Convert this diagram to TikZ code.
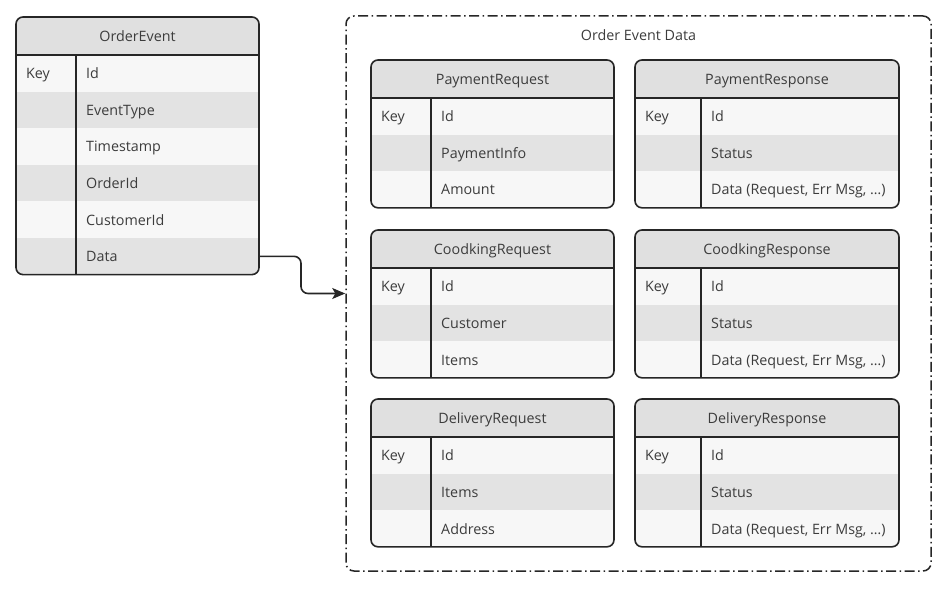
\documentclass[tikz,border=0pt]{standalone}
\usepackage{fontspec}
\setmainfont{Open Sans}
\usetikzlibrary{positioning,arrows.meta,calc}

\definecolor{hdrgray}{HTML}{E0E0E0}
\definecolor{rowlight}{HTML}{F7F7F7}
\definecolor{rowdark}{HTML}{E3E3E3}
\definecolor{inkgray}{HTML}{262626}
\definecolor{txtgray}{HTML}{3C3C3C}

\newcommand{\hdrh}{38}
\newcommand{\rowh}{36.6}

% entity table: name, top-left, width, key column width, rows, title, fields
\newcommand{\entity}[7]{%
\begin{scope}[shift={(#2)}]
  \pgfmathsetmacro{\tabh}{\hdrh+#5*\rowh}
  \begin{scope}
    \clip[rounded corners=7pt] (0,0) rectangle (#3,\tabh);
    \fill[hdrgray] (0,0) rectangle (#3,\hdrh);
    \foreach \f [count=\i] in {#7} {
      \pgfmathsetmacro{\ytop}{\hdrh+(\i-1)*\rowh}
      \ifodd\i \def\rowcol{rowlight}\else \def\rowcol{rowdark}\fi
      \fill[\rowcol] (0,\ytop) rectangle (#3,\ytop+\rowh);
      \node[field] (#1-\i) at (#4+10,\ytop+\rowh/2) {\f};
    }
  \end{scope}
  \node[field] (#1-key) at (10,\hdrh+\rowh/2) {Key};
  \node[title] (#1-title) at (#3/2,\hdrh/2) {#6};
  \draw[rule] (0,\hdrh) -- (#3,\hdrh);
  \draw[rule] (#4,\hdrh) -- (#4,\tabh);
  \node[tablebox, minimum width=#3, minimum height=\tabh, anchor=north west] (#1) at (0,0) {};
\end{scope}}

\begin{document}
\begin{tikzpicture}[x=1pt, y=-1pt,
    field/.style={anchor=west, inner sep=0pt, text=txtgray, text height=11pt, text depth=0pt, font=\fontsize{14.3}{16}\selectfont},
    title/.style={inner sep=0pt, text=txtgray, text height=11pt, text depth=0pt, font=\fontsize{14.3}{16}\selectfont},
    rule/.style={draw=inkgray, line width=1.6pt},
    tablebox/.style={draw=inkgray, line width=1.6pt, rounded corners=7pt, inner sep=0pt, outer sep=0pt},
    groupbox/.style={draw=inkgray, line width=1.5pt, rounded corners=8pt, dash pattern=on 10pt off 3.5pt on 1.5pt off 3.5pt},
    conn/.style={draw=inkgray, line width=1.6pt, rounded corners=7pt, -{Stealth[length=13pt, width=11pt, inset=3pt]}}]
\useasboundingbox (0,0) rectangle (951,591);

    % Group of event payloads
\node[groupbox, minimum width=585pt, minimum height=555pt] (data) at (638.5,293.5) {};
\node[title] (data-title) at (638.5,35) {Order Event Data};

    % Main event table
\entity{order}{16,17}{243}{60}{6}{OrderEvent}{Id, EventType, Timestamp, OrderId, CustomerId, Data}

    % Request / response tables
\entity{payreq}{371,60}{243}{60}{3}{PaymentRequest}{Id, PaymentInfo, Amount}
\entity{payres}{635,60}{264}{66}{3}{PaymentResponse}{Id, Status, {Data (Request, Err Msg, \ldots)}}
\entity{cookreq}{371,230}{243}{60}{3}{CoodkingRequest}{Id, Customer, Items}
\entity{cookres}{635,230}{264}{66}{3}{CoodkingResponse}{Id, Status, {Data (Request, Err Msg, \ldots)}}
\entity{delreq}{371,399}{243}{60}{3}{DeliveryRequest}{Id, Items, Address}
\entity{delres}{635,399}{264}{66}{3}{DeliveryResponse}{Id, Status, {Data (Request, Err Msg, \ldots)}}

    % Connection
\draw[conn] (order.east |- order-6) -- ++(42,0) |- (data.west);
\end{tikzpicture}
\end{document}
